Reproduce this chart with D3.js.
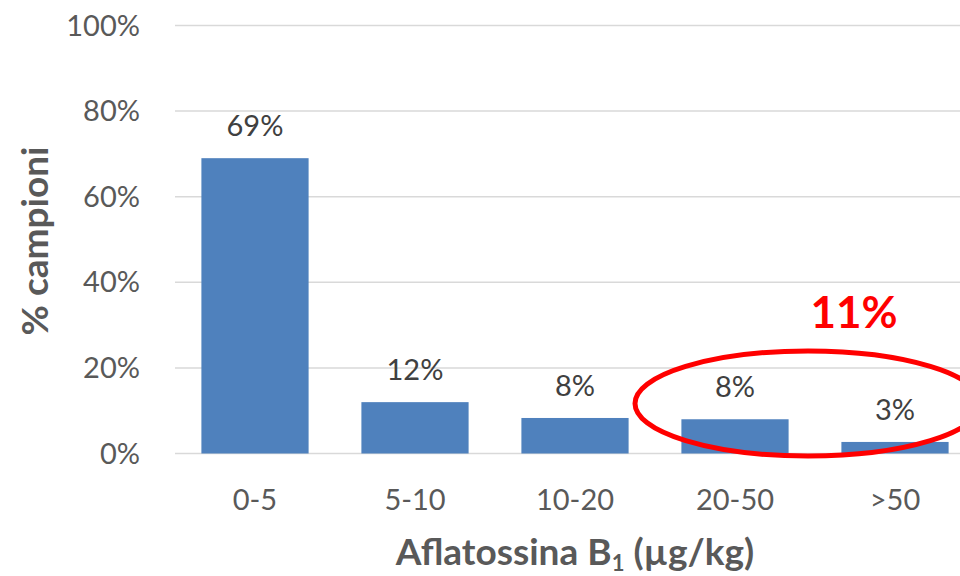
<!DOCTYPE html>
<html><head><meta charset="utf-8">
<script src="https://cdn.jsdelivr.net/npm/d3@7"></script>
<style>
html,body{margin:0;padding:0;background:#fff;}
svg{display:block;}
text{font-family:Lato,"Open Sans",sans-serif;}
</style></head>
<body>
<svg id="chart" width="960" height="576"></svg>
<script>
const categories = ["0-5","5-10","10-20","20-50",">50"];
const values = [69, 12, 8.3, 8.0, 2.7];
const valueLabels = ["69%","12%","8%","8%","3%"];
const yTicks = [0,20,40,60,80,100];
const yTickLabels = ["0%","20%","40%","60%","80%","100%"];
const highlightLabel = "11%";
const xTitle = "Aflatossina B";
const xTitleSub = "1";
const xTitleTail = " (µg/kg)";
const yTitle = "% campioni";

const svg = d3.select("#chart");
const textColor = "#595959";
const x = d3.scaleBand().domain(categories).range([175, 975]).paddingInner(0.33).paddingOuter(0.165);
const y = d3.scaleLinear().domain([0,100]).range([453.5, 25.5]);

// gridlines
svg.append("g").selectAll("line").data(yTicks).join("line")
  .attr("x1",175).attr("x2",960)
  .attr("y1",d=>y(d)).attr("y2",d=>y(d))
  .attr("stroke","#d9d9d9").attr("stroke-width",1.5);

// y tick labels
svg.append("g").selectAll("text").data(yTicks).join("text")
  .attr("x",140).attr("y",d=>y(d)+10)
  .attr("text-anchor","end").attr("fill",textColor)
  .attr("font-size",29).text((d,i)=>yTickLabels[i]);

// bars
svg.append("g").selectAll("rect").data(values).join("rect")
  .attr("x",(d,i)=>x(categories[i]))
  .attr("width",x.bandwidth())
  .attr("y",d=>y(d))
  .attr("height",d=>y(0)-y(d))
  .attr("fill","#4f81bd");

// value labels
svg.append("g").selectAll("text").data(values).join("text")
  .attr("x",(d,i)=>x(categories[i])+x.bandwidth()/2)
  .attr("y",d=>y(d)-22)
  .attr("text-anchor","middle").attr("fill","#404040")
  .attr("font-size",29).text((d,i)=>valueLabels[i]);

// x category labels
svg.append("g").selectAll("text").data(categories).join("text")
  .attr("x",d=>x(d)+x.bandwidth()/2)
  .attr("y",510)
  .attr("text-anchor","middle").attr("fill",textColor)
  .attr("font-size",29).text(d=>d);

// x title
const xt = svg.append("text").attr("x",575).attr("y",565)
  .attr("text-anchor","middle").attr("fill",textColor)
  .attr("font-size",37).attr("font-weight","bold");
xt.append("tspan").text(xTitle);
xt.append("tspan").attr("font-size",22).attr("dy",6).text(xTitleSub);
xt.append("tspan").attr("dy",-6).text(xTitleTail);

// y title
svg.append("text").attr("transform","translate(48,241) rotate(-90)")
  .attr("text-anchor","middle").attr("fill",textColor)
  .attr("font-size",37).attr("font-weight","bold").text(yTitle);

// annotation ellipse
svg.append("ellipse").attr("cx",808).attr("cy",403.5).attr("rx",173).attr("ry",52.5)
  .attr("fill","none").attr("stroke","#ff0000").attr("stroke-width",5);

svg.append("text").attr("x",854).attr("y",328)
  .attr("text-anchor","middle").attr("fill","#ff0000")
  .attr("font-size",44).attr("font-weight","bold").text(highlightLabel);
</script>
</body></html>
